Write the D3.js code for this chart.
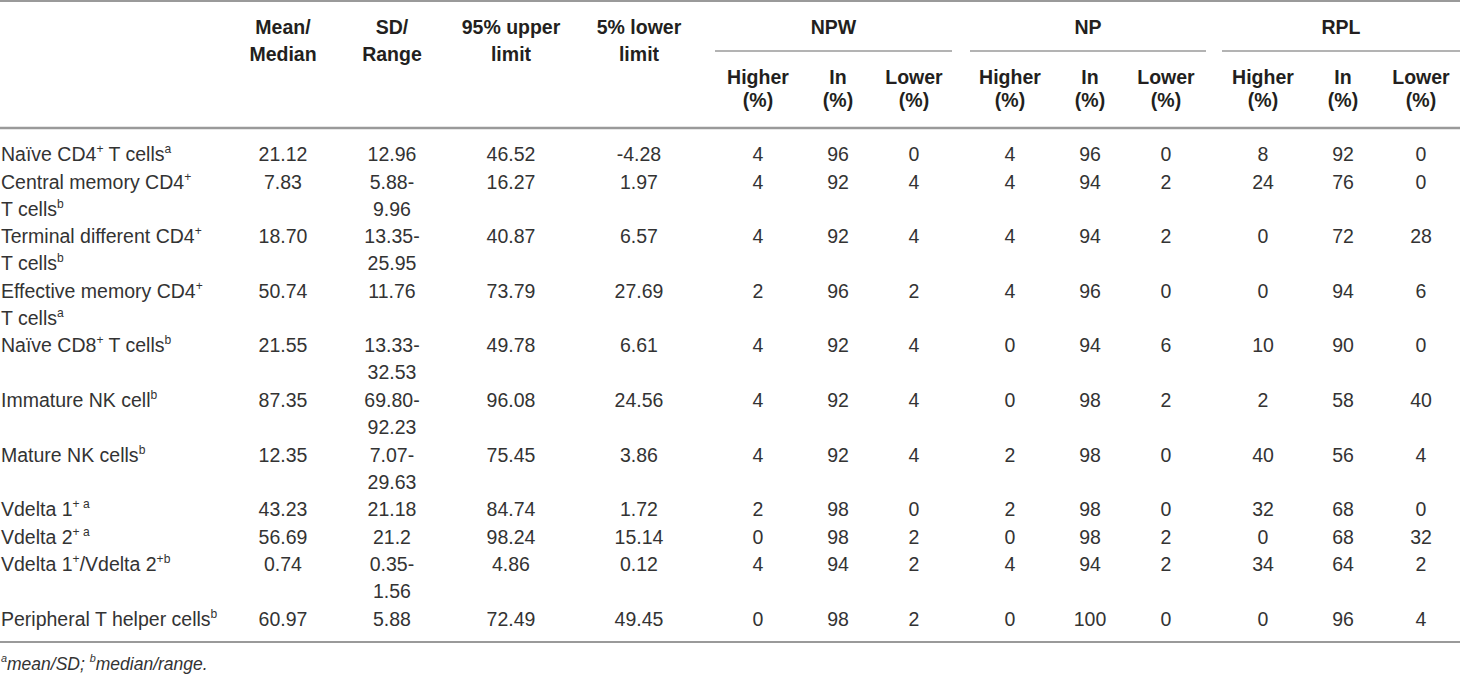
<!DOCTYPE html>
<html>
<head>
<meta charset="utf-8">
<script src="https://cdn.jsdelivr.net/npm/d3@7"></script>
<style>
  body{margin:0;background:#fff;}
  svg text{font-family:"Liberation Sans",Arial,sans-serif;}
</style>
</head>
<body>
<div id="chart"></div>
<script>
// row labels, {..} marks superscript, each entry is list of lines
var rowLabels = [
  ["Naïve CD4{+} T cells{a}"],
  ["Central memory CD4{+}", "T cells{b}"],
  ["Terminal different CD4{+}", "T cells{b}"],
  ["Effective memory CD4{+}", "T cells{a}"],
  ["Naïve CD8{+} T cells{b}"],
  ["Immature NK cell{b}"],
  ["Mature NK cells{b}"],
  ["Vdelta 1{+ a}"],
  ["Vdelta 2{+ a}"],
  ["Vdelta 1{+}/Vdelta 2{+b}"],
  ["Peripheral T helper cells{b}"]
];
var meanMedian = ["21.12","7.83","18.70","50.74","21.55","87.35","12.35","43.23","56.69","0.74","60.97"];
var sdRange = ["12.96","5.88-|9.96","13.35-|25.95","11.76","13.33-|32.53","69.80-|92.23","7.07-|29.63","21.18","21.2","0.35-|1.56","5.88"];
var upper95 = ["46.52","16.27","40.87","73.79","49.78","96.08","75.45","84.74","98.24","4.86","72.49"];
var lower5 = ["-4.28","1.97","6.57","27.69","6.61","24.56","3.86","1.72","15.14","0.12","49.45"];
var npwHigher = [4,4,4,2,4,4,4,2,0,4,0];
var npwIn     = [96,92,92,96,92,92,92,98,98,94,98];
var npwLower  = [0,4,4,2,4,4,4,0,2,2,2];
var npHigher  = [4,4,4,4,0,0,2,2,0,4,0];
var npIn      = [96,94,94,96,94,98,98,98,98,94,100];
var npLower   = [0,2,2,0,6,2,0,0,2,2,0];
var rplHigher = [8,24,0,0,10,2,40,32,0,34,0];
var rplIn     = [92,76,72,94,90,58,56,68,68,64,96];
var rplLower  = [0,0,28,6,0,40,4,0,32,2,4];

var colHeads = ["Mean/|Median","SD/|Range","95% upper|limit","5% lower|limit"];
var groups = ["NPW","NP","RPL"];
var subHeads = ["Higher|(%)","In|(%)","Lower|(%)"];
var footnote = "{a}mean/SD; {b}median/range.";

var W = 1460, H = 674;
var fs = 19.5, lineGap = 27, rowGap = 27.6;

var colKeys = ["mean","sd","up","low","npwH","npwI","npwL","npH","npI","npL","rplH","rplI","rplL"];
var x = d3.scaleOrdinal()
  .domain(colKeys)
  .range([283,392,511,639,758,838,914,1010,1090,1166,1263,1343,1421]);
var groupX = d3.scaleOrdinal().domain(groups).range([[715,952],[970,1206],[1222,1460]]);

var columns = [meanMedian,sdRange,upper95,lower5,npwHigher,npwIn,npwLower,npHigher,npIn,npLower,rplHigher,rplIn,rplLower];

// lines per row
var rowLines = rowLabels.map(function(l,i){
  var n = l.length;
  columns.forEach(function(c){ n = Math.max(n, String(c[i]).split("|").length); });
  return n;
});
var rowY = [];
var yy = 154;
rowLines.forEach(function(n,i){
  rowY.push(yy);
  yy += (n-1)*lineGap + rowGap;
});
var y = d3.scaleOrdinal().domain(d3.range(rowLabels.length)).range(rowY);

var svg = d3.select("#chart").append("svg")
  .attr("width",W).attr("height",H);

// write a line that may have {sup} parts
function richText(sel, str, size){
  var parts = str.split(/(\{[^}]*\})/).filter(function(p){return p.length;});
  var up = false;
  parts.forEach(function(p){
    if(p[0]==="{"){
      sel.append("tspan").attr("dy", up ? 0 : -8).attr("font-size", size*0.62).text(p.slice(1,-1));
      up = true;
    } else {
      sel.append("tspan").attr("dy", up ? 8 : 0).text(p);
      up = false;
    }
  });
}

var ruleColor = "#9a9a9a";
function rule(x1,x2,yv,w){
  svg.append("line").attr("x1",x1).attr("x2",x2).attr("y1",yv).attr("y2",yv)
    .attr("stroke",ruleColor).attr("stroke-width",w);
}
rule(0,W,1,2);
rule(0,W,128,2.5);
var lastY = rowY[rowY.length-1];
rule(0,W,lastY+23,2);

// header
var hdr = svg.append("g").attr("font-weight","bold").attr("font-size",fs).attr("fill","#231f20").attr("text-anchor","middle");
colHeads.forEach(function(h,i){
  h.split("|").forEach(function(t,j){
    hdr.append("text").attr("x",x(colKeys[i])).attr("y",27+j*lineGap+7).text(t);
  });
});
groups.forEach(function(g,gi){
  var r = groupX(g);
  hdr.append("text").attr("x",(r[0]+r[1])/2).attr("y",27+7).text(g);
  rule(r[0],r[1],51,1.5);
  subHeads.forEach(function(s,si){
    s.split("|").forEach(function(t,j){
      hdr.append("text").attr("x",x(colKeys[4+gi*3+si])).attr("y",77+j*23+7).text(t);
    });
  });
});

// body
var body = svg.append("g").attr("font-size",fs).attr("fill","#333");
rowLabels.forEach(function(lines,i){
  lines.forEach(function(l,j){
    var t = body.append("text").attr("x",1).attr("y",y(i)+j*lineGap+7);
    richText(t,l,fs);
  });
});
columns.forEach(function(col,ci){
  col.forEach(function(v,i){
    String(v).split("|").forEach(function(t,j){
      body.append("text").attr("text-anchor","middle")
        .attr("x",x(colKeys[ci])).attr("y",y(i)+j*lineGap+7).text(t);
    });
  });
});

var fn = svg.append("text").attr("x",1).attr("y",lastY+51).attr("font-size",17.5)
  .attr("font-style","italic").attr("fill","#333");
richText(fn,footnote,17.5);
</script>
</body>
</html>
